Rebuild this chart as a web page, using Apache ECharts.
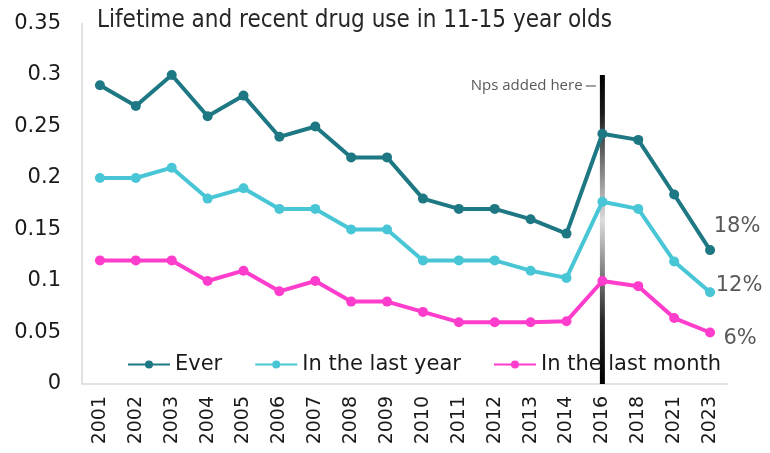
<!DOCTYPE html>
<html>
<head>
<meta charset="utf-8">
<script src="https://cdn.jsdelivr.net/npm/echarts@6/dist/echarts.min.js"></script>
<style>html,body{margin:0;padding:0;background:#fff;}#chart{width:770px;height:453px;}</style>
</head>
<body>
<div id="chart"></div>
<script>
var years = ['2001','2002','2003','2004','2005','2006','2007','2008','2009','2010','2011','2012','2013','2014','2016','2018','2021','2023'];
var ever = [0.29,0.27,0.30,0.26,0.28,0.24,0.25,0.22,0.22,0.18,0.17,0.17,0.16,0.146,0.243,0.237,0.184,0.13];
var lastYear = [0.20,0.20,0.21,0.18,0.19,0.17,0.17,0.15,0.15,0.12,0.12,0.12,0.11,0.103,0.177,0.17,0.119,0.089];
var lastMonth = [0.12,0.12,0.12,0.10,0.11,0.09,0.10,0.08,0.08,0.07,0.06,0.06,0.06,0.061,0.10,0.095,0.064,0.05];
var seriesNames = ['Ever','In the last year','In the last month'];
var endLabels = ['18%','12%','6%'];
var npsYear = '2016';
var npsValue = 0.30;
var npsText = 'Nps added here';
var titleText = 'Lifetime and recent drug use in 11-15 year olds';

var colors = ['#1e7883','#48c6d6','#ff3dcc'];
var labelOffsets = [[32,-19],[34,-2],[35,11]];

function buildData(vals, idx) {
  return vals.map(function (v, i) {
    if (i === vals.length - 1) {
      return {
        value: v,
        label: {
          show: true,
          formatter: endLabels[idx],
          position: labelOffsets[idx],
          align: 'center',
          verticalAlign: 'middle',
          color: '#595959',
          fontFamily: 'DejaVu Sans',
          fontSize: 21
        }
      };
    }
    return v;
  });
}

var allVals = [ever, lastYear, lastMonth];
var series = allVals.map(function (vals, idx) {
  return {
    name: seriesNames[idx],
    type: 'line',
    data: buildData(vals, idx),
    symbol: 'circle',
    symbolSize: 10,
    lineStyle: { width: 4, color: colors[idx] },
    itemStyle: { color: colors[idx] },
    z: 3
  };
});

series.unshift({
  name: 'nps',
  type: 'bar',
  barWidth: 5,
  barGap: '-100%',
  silent: true,
  data: years.map(function (y) {
    return y === npsYear ? npsValue : null;
  }),
  itemStyle: {
    color: new echarts.graphic.LinearGradient(0, 0, 0, 1, [
      { offset: 0, color: '#000000' },
      { offset: 0.12, color: '#1a1a1a' },
      { offset: 0.35, color: '#9a9a9a' },
      { offset: 0.47, color: '#dcdcdc' },
      { offset: 0.62, color: '#8a8a8a' },
      { offset: 0.8, color: '#262626' },
      { offset: 1, color: '#000000' }
    ])
  },
  label: {
    show: true,
    position: [-4, 11],
    align: 'right',
    verticalAlign: 'middle',
    formatter: '{t|' + npsText + '} {l|}',
    rich: {
      t: { fontFamily: 'Open Sans', fontSize: 15, color: '#595959' },
      l: { width: 10, height: 1.5, backgroundColor: '#7f7f7f' }
    }
  },
  z: 2
});

var chart = echarts.init(document.getElementById('chart'), null, { renderer: 'canvas' });
chart.setOption({
  animation: false,
  backgroundColor: '#ffffff',
  title: {
    text: titleText,
    left: 92,
    top: 4,
    textStyle: { fontFamily: 'DejaVu Sans Condensed', fontSize: 24, fontWeight: 'normal', color: '#262626' }
  },
  legend: {
    data: seriesNames,
    left: 122,
    top: 349,
    itemWidth: 42,
    itemHeight: 10,
    itemGap: 32,
    textStyle: { fontFamily: 'DejaVu Sans', fontSize: 21, color: '#1a1a1a' }
  },
  grid: { left: 82, right: 42, top: 23.5, bottom: 69, containLabel: false },
  xAxis: {
    type: 'category',
    data: years,
    boundaryGap: true,
    axisLine: { lineStyle: { color: '#d9d9d9', width: 1.5 } },
    axisTick: { show: false },
    axisLabel: {
      rotate: 90,
      margin: 12,
      interval: 0,
      fontFamily: 'DejaVu Sans',
      fontSize: 19,
      color: '#1a1a1a'
    }
  },
  yAxis: {
    type: 'value',
    min: 0,
    max: 0.35,
    interval: 0.05,
    axisLine: { show: true, lineStyle: { color: '#d9d9d9', width: 1.5 } },
    axisTick: { show: false },
    splitLine: { show: false },
    axisLabel: {
      margin: 21,
      fontFamily: 'DejaVu Sans',
      fontSize: 21,
      color: '#1a1a1a'
    }
  },
  series: series
});
</script>
</body>
</html>
